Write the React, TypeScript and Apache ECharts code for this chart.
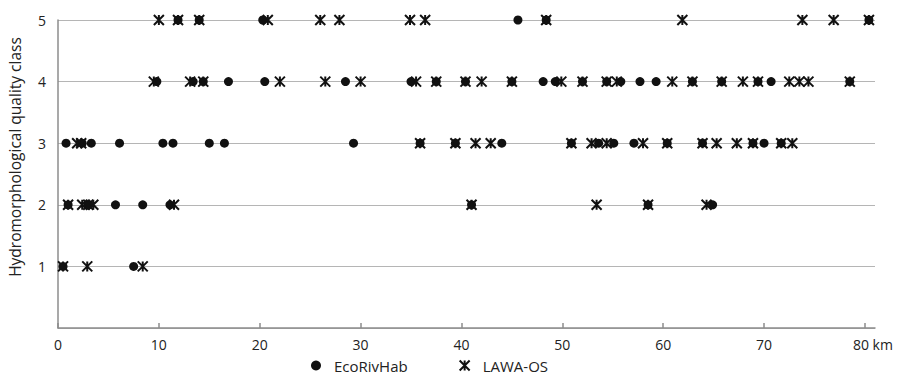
import React, { useEffect, useRef } from "react";
import * as echarts from "echarts";

// Distance along river (km) for each hydromorphological quality class
const ecoClass5 = [11.9, 14.0, 20.3, 45.6, 48.4, 80.4];
const ecoClass4 = [9.8, 13.4, 14.4, 16.9, 20.5, 28.5, 35.0, 37.5, 40.4, 45.0, 48.1, 49.3, 52.0, 54.4, 55.8, 57.7, 59.3, 62.9, 65.8, 69.4, 70.7, 78.5];
const ecoClass3 = [0.8, 2.4, 3.3, 6.1, 10.4, 11.4, 15.0, 16.5, 29.3, 35.9, 39.4, 44.0, 50.9, 53.6, 55.1, 57.1, 60.4, 63.9, 68.9, 70.0, 71.7];
const ecoClass2 = [1.0, 3.0, 5.7, 8.4, 11.1, 41.0, 58.5, 64.9];
const ecoClass1 = [0.5, 7.5];

const lawaClass5 = [10.0, 11.9, 14.0, 20.8, 26.0, 27.9, 34.9, 36.4, 48.4, 61.9, 73.8, 76.9, 80.4];
const lawaClass4 = [9.5, 13.1, 14.4, 22.0, 26.5, 30.0, 35.5, 37.5, 40.4, 42.0, 45.0, 49.9, 52.0, 54.4, 55.4, 60.9, 62.9, 65.8, 67.9, 69.4, 72.5, 73.5, 74.4, 78.5];
const lawaClass3 = [1.9, 2.3, 35.9, 39.4, 41.4, 42.9, 50.9, 52.9, 54.4, 58.0, 60.4, 63.9, 65.3, 67.3, 68.9, 71.7, 72.8];
const lawaClass2 = [1.0, 2.4, 3.0, 3.5, 11.5, 41.0, 53.4, 58.5, 64.3];
const lawaClass1 = [0.5, 2.9, 8.4];

const xTicks = [0, 10, 20, 30, 40, 50, 60, 70, 80];
const seriesNames = ["EcoRivHab", "LAWA-OS"];
const yTitle = "Hydromorphological quality class";

const toPoints = (lists: number[][]) => {
  const out: number[][] = [];
  lists.forEach((arr, i) => {
    const cls = i + 1;
    arr.forEach((km) => out.push([km, cls]));
  });
  return out;
};

const ecoData = toPoints([ecoClass1, ecoClass2, ecoClass3, ecoClass4, ecoClass5]);
const lawaData = toPoints([lawaClass1, lawaClass2, lawaClass3, lawaClass4, lawaClass5]);

const FONT = '"Open Sans", sans-serif';
const TEXT = "#222222";
const AXIS = "#8c8c8c";
const MARK = "#111111";

export default function App() {
  const ref = useRef<HTMLDivElement>(null);
  useEffect(() => {
    document.body.style.margin = "0";
    if (!ref.current) return;
    const chart = echarts.init(ref.current, undefined, { renderer: "svg" });
    chart.setOption({
      animation: false,
      backgroundColor: "#ffffff",
      grid: { left: 58, right: 25, top: 20, bottom: 47, containLabel: false, outerBoundsMode: "none" },
      legend: {
        left: 311,
        top: 358,
        padding: 0,
        itemWidth: 26,
        itemHeight: 10,
        itemGap: 51,
        symbolKeepAspect: true,
        textStyle: { fontFamily: FONT, fontSize: 15, lineHeight: 14, color: TEXT },
        data: seriesNames,
      },
      xAxis: {
        type: "value",
        min: 0,
        max: 81,
        splitLine: { show: false },
        axisLine: { show: true, lineStyle: { color: AXIS, width: 1.5 } },
        axisTick: { show: true, inside: true, length: 5, customValues: xTicks, lineStyle: { color: AXIS, width: 1.5 } },
        axisLabel: {
          customValues: xTicks,
          margin: 9,
          fontFamily: FONT,
          fontSize: 14,
          color: TEXT,
          formatter: (v: number) => (v === 80 ? "{k|80 km}" : String(v)),
          rich: { k: { fontFamily: FONT, fontSize: 14, color: TEXT, padding: [0, 0, 0, 16] } },
        },
      },
      yAxis: {
        type: "value",
        min: 0,
        max: 5,
        interval: 1,
        axisLine: { show: true, lineStyle: { color: AXIS, width: 1.5 } },
        axisTick: { show: false },
        splitLine: { show: true, lineStyle: { color: "#b5b5b5", width: 1 } },
        axisLabel: {
          margin: 12,
          fontFamily: FONT,
          fontSize: 14,
          color: TEXT,
          formatter: (v: number) => (v === 0 ? "" : String(v)),
        },
      },
      graphic: [
        {
          type: "text",
          x: 15,
          y: 157,
          rotation: Math.PI / 2,
          style: {
            text: yTitle,
            fontFamily: FONT,
            fontSize: 15.5,
            fill: TEXT,
            align: "center",
            verticalAlign: "middle",
          },
        },
      ],
      series: [
        {
          name: seriesNames[0],
          type: "scatter",
          symbol: "circle",
          symbolSize: 9,
          symbolKeepAspect: true,
          itemStyle: { color: MARK, opacity: 1 },
          data: ecoData,
          z: 2,
        },
        {
          name: seriesNames[1],
          type: "scatter",
          symbol: "path://M0,0L10,10M10,0L0,10M5,0L5,10",
          symbolSize: 10,
          symbolKeepAspect: true,
          itemStyle: { color: MARK, borderColor: MARK, borderWidth: 2, opacity: 1 },
          data: lawaData,
          z: 3,
        },
      ],
    });
    return () => chart.dispose();
  }, []);
  return <div ref={ref} style={{ width: 900, height: 375 }} />;
}
